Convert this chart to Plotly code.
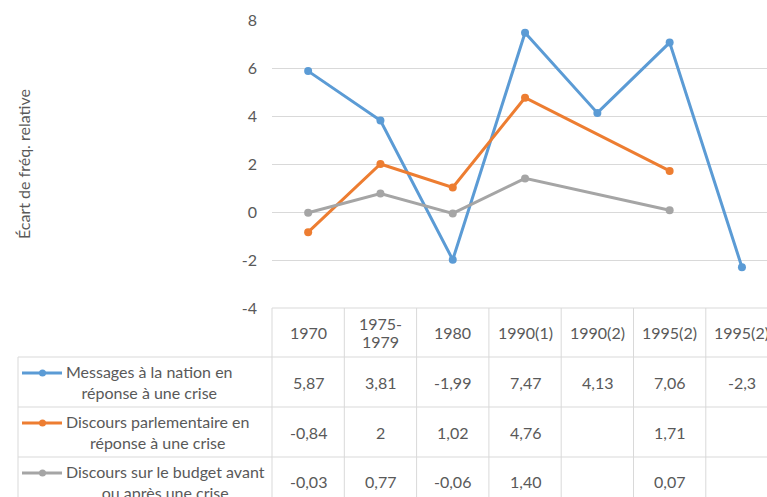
import plotly.graph_objects as go

# ---- data ----
header_labels = ["1970", "1975-<br>1979", "1980", "1990(1)", "1990(2)", "1995(2)", "1995(2)"]
series_names = [
    "Messages à la nation en<br>réponse à une crise",
    "Discours parlementaire en<br>réponse à une crise",
    "Discours sur le budget avant<br>ou après une crise",
]
messages = [5.87, 3.81, -1.99, 7.47, 4.13, 7.06, -2.3]
parlement = [-0.84, 2, 1.02, 4.76, None, 1.71, None]
budget = [-0.03, 0.77, -0.06, 1.40, None, 0.07, None]
y_ticks = [-4, -2, 0, 2, 4, 6, 8]
y_title = "Écart de fréq. relative"

colors = ["#5B9BD5", "#ED7D31", "#A5A5A5"]
formats = ["{:g}", "{:g}", "{:.2f}"]
series = [messages, parlement, budget]

W, H = 767, 497
L, T = 272, 20
PLOT_W = W - L
PLOT_H = 288
B = H - T - PLOT_H
CAT_W = 72.3
x_idx = list(range(len(header_labels)))
x_range = [-0.5, -0.5 + PLOT_W / CAT_W]

TXT = "#595959"
GRID = "#D9D9D9"
FONT = "Lato, 'Open Sans', sans-serif"
FS = 16
LINE_GAP = 18

fig = go.Figure()
for name, vals, col in zip(series_names, series, colors):
    fig.add_trace(go.Scatter(
        x=x_idx, y=vals, mode="lines+markers", name=name.replace("<br>", " "),
        connectgaps=True, line=dict(color=col, width=3),
        marker=dict(color=col, size=8), cliponaxis=False,
    ))


def px(xp):
    return (xp - L) / PLOT_W


def py(yp):
    return (T + PLOT_H - yp) / PLOT_H


def cat_px(i):
    return L + (i - x_range[0]) * CAT_W


def text_lines(label, xc, yc, xanchor="center"):
    parts = label.split("<br>")
    n = len(parts)
    out = []
    for k, part in enumerate(parts):
        yk = yc + (k - (n - 1) / 2) * LINE_GAP
        out.append(dict(xref="paper", yref="paper", x=px(xc), y=py(yk), text=part, showarrow=False,
                        font=dict(size=FS, color=TXT, family=FONT), xanchor=xanchor, yanchor="middle"))
    return out


shapes = []
annotations = []
line_style = dict(color=GRID, width=1)

table_top = T + PLOT_H
row_edges = [table_top, 357, 407, 457, 507]
left_edge = 18

# horizontal lines
shapes.append(dict(type="line", xref="paper", yref="paper", x0=px(L), x1=px(W), y0=py(table_top), y1=py(table_top), line=line_style))
for ye in row_edges[1:4]:
    shapes.append(dict(type="line", xref="paper", yref="paper", x0=px(left_edge), x1=px(W), y0=py(ye), y1=py(ye), line=line_style))
# vertical lines
for i in range(len(header_labels)):
    xe = cat_px(i - 0.5)
    shapes.append(dict(type="line", xref="paper", yref="paper", x0=px(xe), x1=px(xe), y0=py(table_top), y1=py(H + 5), line=line_style))
shapes.append(dict(type="line", xref="paper", yref="paper", x0=px(left_edge), x1=px(left_edge), y0=py(row_edges[1]), y1=py(H + 5), line=line_style))

# header labels
for i, lab in enumerate(header_labels):
    annotations += text_lines(lab, cat_px(i), (row_edges[0] + row_edges[1]) / 2)

# data rows
for r, (name, vals, col, fmt) in enumerate(zip(series_names, series, colors, formats)):
    yc = (row_edges[r + 1] + row_edges[r + 2]) / 2
    y_key = yc - LINE_GAP / 2
    shapes.append(dict(type="line", xref="paper", yref="paper", x0=px(22), x1=px(62), y0=py(y_key), y1=py(y_key),
                       line=dict(color=col, width=3)))
    shapes.append(dict(type="circle", xref="paper", yref="paper", x0=px(39), x1=px(46), y0=py(y_key - 3.5), y1=py(y_key + 3.5),
                       line=dict(color=col, width=0), fillcolor=col))
    annotations.append(dict(xref="paper", yref="paper", x=px(64), y=py(yc), text=name, showarrow=False,
                            font=dict(size=FS, color=TXT, family=FONT), xanchor="left", yanchor="middle",
                            align="center"))
    for i, v in enumerate(vals):
        if v is None:
            continue
        annotations += text_lines(fmt.format(v).replace(".", ","), cat_px(i), yc)

# y-axis title
annotations.append(dict(xref="paper", yref="paper", x=px(23), y=py(T + PLOT_H / 2), text=y_title, textangle=-90,
                        showarrow=False, font=dict(size=FS, color=TXT, family=FONT), xanchor="center", yanchor="middle"))

fig.update_layout(
    width=W, height=H, margin=dict(l=L, r=0, t=T, b=B),
    paper_bgcolor="white", plot_bgcolor="white", showlegend=False,
    shapes=shapes, annotations=annotations,
    font=dict(family=FONT, color=TXT),
)
fig.update_xaxes(range=x_range, showticklabels=False, showgrid=False, zeroline=False, showline=False)
fig.update_yaxes(range=[y_ticks[0], y_ticks[-1]], tickvals=y_ticks, ticktext=[str(t) for t in y_ticks],
                 showgrid=True, gridcolor=GRID, gridwidth=1, zeroline=False, showline=False,
                 tickfont=dict(size=FS, color=TXT, family=FONT), ticklabelstandoff=14)

fig.write_html("out.html", config={"displayModeBar": False},
               post_script="document.body.style.margin='0';document.body.style.overflow='hidden';")
